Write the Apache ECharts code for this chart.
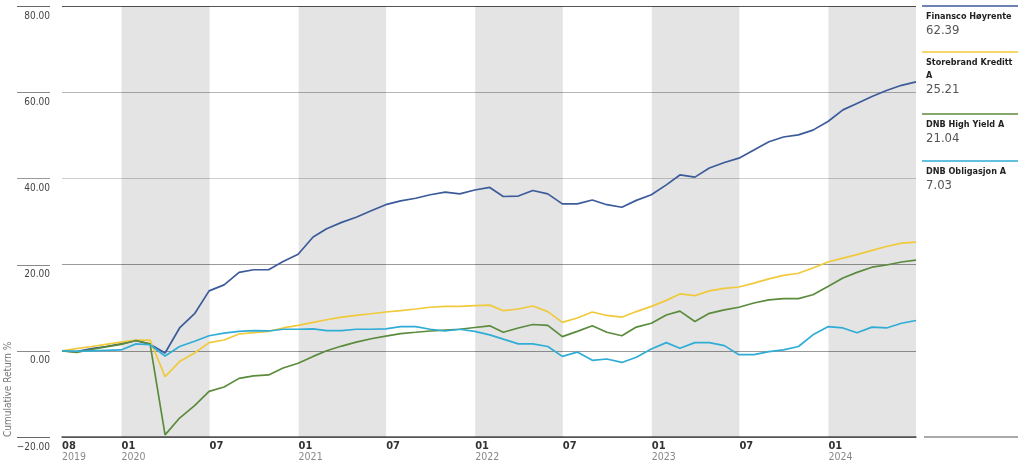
<!DOCTYPE html>
<html><head><meta charset="utf-8">
<script src="https://cdn.jsdelivr.net/npm/echarts@6/dist/echarts.min.js"></script>
<style>html,body{margin:0;padding:0;background:#fff}#c{width:1024px;height:471px}</style>
</head><body><div id="c"></div>
<script>
const dates = ['2019-08-31','2019-09-30','2019-10-31','2019-11-30','2019-12-31',
'2020-01-31','2020-02-29','2020-03-31','2020-04-30','2020-05-31','2020-06-30','2020-07-31','2020-08-31','2020-09-30','2020-10-31','2020-11-30','2020-12-31',
'2021-01-31','2021-02-28','2021-03-31','2021-04-30','2021-05-31','2021-06-30','2021-07-31','2021-08-31','2021-09-30','2021-10-31','2021-11-30','2021-12-31',
'2022-01-31','2022-02-28','2022-03-31','2022-04-30','2022-05-31','2022-06-30','2022-07-31','2022-08-31','2022-09-30','2022-10-31','2022-11-30','2022-12-31',
'2023-01-31','2023-02-28','2023-03-31','2023-04-30','2023-05-31','2023-06-30','2023-07-31','2023-08-31','2023-09-30','2023-10-31','2023-11-30','2023-12-31',
'2024-01-31','2024-02-29','2024-03-31','2024-04-30','2024-05-31','2024-06-30'];

const finansco = [0,-0.2,0.5,1.0,1.6,2.4,1.5,-0.5,5.3,8.6,13.9,15.3,18.2,18.8,18.8,20.7,22.4,
26.4,28.3,29.8,31.0,32.5,33.9,34.8,35.4,36.2,36.8,36.4,37.3,
37.9,35.8,35.9,37.2,36.4,34.1,34.1,35.0,33.9,33.3,34.9,36.2,
38.5,40.8,40.3,42.4,43.7,44.7,46.6,48.5,49.6,50.1,51.2,53.2,
55.9,57.4,59.0,60.4,61.6,62.39];

const storebrand = [0,0.5,1.0,1.5,2.0,2.5,2.5,-6.0,-2.5,-0.5,1.9,2.5,3.9,4.2,4.5,5.3,5.9,
6.6,7.2,7.8,8.2,8.6,9.0,9.3,9.7,10.1,10.3,10.3,10.5,
10.6,9.3,9.7,10.4,9.1,6.6,7.6,9.0,8.2,7.8,9.1,10.3,
11.7,13.2,12.8,13.9,14.5,14.8,15.7,16.7,17.5,18.0,19.2,20.6,
21.5,22.3,23.3,24.2,25.0,25.21];

const dnbHighYield = [0,-0.4,0.3,0.9,1.5,2.4,1.6,-19.5,-15.6,-12.7,-9.4,-8.4,-6.4,-5.8,-5.6,-4.0,-2.9,
-1.3,0,1.1,2.0,2.8,3.4,4.0,4.3,4.6,4.8,5.0,5.4,
5.8,4.3,5.3,6.1,5.9,3.3,4.5,5.8,4.3,3.5,5.5,6.4,
8.3,9.2,6.8,8.7,9.5,10.1,11.1,11.8,12.1,12.1,13.0,14.9,
16.9,18.2,19.4,19.9,20.6,21.04];

const dnbObligasjon = [0,-0.1,0,0.1,0.2,1.6,1.4,-1.2,1.0,2.2,3.5,4.1,4.5,4.7,4.6,5.0,5.0,
5.1,4.7,4.7,5.0,5.0,5.1,5.6,5.6,5.0,4.6,5.0,4.5,
3.7,2.7,1.6,1.6,1.0,-1.3,-0.3,-2.2,-1.9,-2.7,-1.5,0.4,
1.9,0.6,1.9,1.9,1.2,-0.9,-0.9,-0.2,0.2,1.0,3.7,5.6,
5.3,4.2,5.5,5.3,6.4,7.03];

const seriesNames = ['Finansco Høyrente','Storebrand Kreditt A','DNB High Yield A','DNB Obligasjon A'];
const legendLabels = ['Finansco Høyrente','Storebrand Kreditt\nA','DNB High Yield A','DNB Obligasjon A'];
const seriesColors = ['#3c5b9a','#f0c93c','#5b8b3d','#2fadd6'];

const yTicks = [-20,0,20,40,60,80];
const xTickDates = ['2019-08-31','2020-01-01','2020-07-01','2021-01-01','2021-07-01','2022-01-01','2022-07-01','2023-01-01','2023-07-01','2024-01-01'];
const xTickMonths = ['08','01','07','01','07','01','07','01','07','01'];
const xTickYears = ['2019','2020','','2021','','2022','','2023','','2024'];
const bandStarts = ['2020-01-01','2021-01-01','2022-01-01','2023-01-01','2024-01-01'];
const bandEnds = ['2020-07-01','2021-07-01','2022-07-01','2023-07-01','2024-06-30'];

const FONT = '"Liberation Sans Narrow","DejaVu Sans Condensed","Roboto Condensed","Liberation Sans",sans-serif';
function t(s){ const p = s.split('-').map(Number); return Date.UTC(p[0], p[1]-1, p[2]); }

const allValues = [finansco, storebrand, dnbHighYield, dnbObligasjon];
const xTickTimes = xTickDates.map(t);

const GRID = {left: 62, right: 108, top: 6, bottom: 34};
const chart = echarts.init(document.getElementById('c'), null, {renderer:'canvas'});

const lineSeries = allValues.map((vals, k) => ({
  name: seriesNames[k],
  type: 'line',
  data: dates.map((d, i) => [t(d), vals[i]]),
  showSymbol: false,
  symbol: 'none',
  lineStyle: {color: seriesColors[k], width: 1.7},
  itemStyle: {color: seriesColors[k]},
  z: 3
}));

const bandSeries = {
  type: 'line',
  data: [[t(dates[0]), 0]],
  showSymbol: false,
  symbol: 'none',
  lineStyle: {width: 0, opacity: 0},
  silent: true,
  z: 1,
  markArea: {
    silent: true,
    itemStyle: {color: 'rgba(0,0,0,0.105)'},
    data: bandStarts.map((s, i) => [{xAxis: t(s)}, {xAxis: t(bandEnds[i])}])
  }
};

const legendTops = [6, 52, 114, 161];
const graphics = [];
allValues.forEach((vals, k) => {
  const top = legendTops[k];
  const nLines = legendLabels[k].split('\n').length;
  graphics.push({type:'line', shape:{x1:922, y1:top, x2:1018, y2:top}, style:{stroke: seriesColors[k], lineWidth: 1.6}, silent:true});
  graphics.push({type:'text', x:926, y:top+4, style:{text: legendLabels[k], font:'bold 9px ' + FONT, fill:'#222', lineHeight:13, verticalAlign:'top', align:'left'}, silent:true});
  graphics.push({type:'text', x:926, y:top+4+13*nLines, style:{text: vals[vals.length-1].toFixed(2), font:'13px ' + FONT, fill:'#555', lineHeight:15, verticalAlign:'top', align:'left'}, silent:true});
});
graphics.push({type:'line', shape:{x1:924, y1:437, x2:1018, y2:437}, style:{stroke:'#555', lineWidth:1.2}, silent:true});
graphics.push({type:'text', x:3, y:437, rotation: Math.PI/2, style:{text:'Cumulative Return %', font:'10px ' + FONT, fill:'#777', align:'left', verticalAlign:'top'}, silent:true});

// short stubs left of the y labels (decoration at each y tick)
const plotH = 471 - GRID.top - GRID.bottom;
const yMin = yTicks[0], yMax = yTicks[yTicks.length-1];
const stubColors = ['#666', '#8a8a8a', '#8a8a8a', '#999', '#8a8a8a', '#666'];
yTicks.forEach((v, i) => {
  const y = Math.round(GRID.top + (yMax - v) / (yMax - yMin) * plotH) + 0.5;
  graphics.push({type:'rect', z: 50, shape:{x:17, y:y-0.5, width:33, height:1}, style:{fill: stubColors[i]}, silent:true});
});

const gridLineColors = ['#555', '#9a9a9a', '#9a9a9a', '#cfcfcf', '#b5b5b5', '#555'];

chart.setOption({
  animation: false,
  backgroundColor: '#fff',
  grid: Object.assign({containLabel: false}, GRID),
  xAxis: {
    type: 'value',
    min: t(dates[0]),
    max: t(dates[dates.length-1]),
    axisLine: {show: true, onZero: false, lineStyle: {color: '#555', width: 1.5}},
    axisTick: {show: false},
    splitLine: {show: false},
    axisLabel: {
      customValues: xTickTimes,
      align: 'left',
      margin: 4,
      formatter: function (value) {
        let idx = 0, best = Infinity;
        xTickTimes.forEach((tt, i) => { const d = Math.abs(tt - value); if (d < best) { best = d; idx = i; } });
        return xTickYears[idx] ? '{m|' + xTickMonths[idx] + '}\n{y|' + xTickYears[idx] + '}' : '{m|' + xTickMonths[idx] + '}';
      },
      rich: {
        m: {fontFamily: FONT, fontWeight: 'bold', fontSize: 11, color: '#333', lineHeight: 11},
        y: {fontFamily: FONT, fontSize: 10.5, color: '#888', lineHeight: 11}
      }
    }
  },
  yAxis: {
    type: 'value',
    min: yMin,
    max: yMax,
    interval: 20,
    offset: 12,
    axisLine: {show: false},
    axisTick: {show: false},
    axisLabel: {
      margin: 0,
      verticalAlign: 'top',
      padding: [4, 0, 0, 0],
      fontFamily: FONT,
      fontSize: 10,
      lineHeight: 12,
      color: '#444',
      formatter: v => (v < 0 ? '\u2212' + Math.abs(v).toFixed(2) : v.toFixed(2))
    },
    splitLine: {show: true, lineStyle: {color: gridLineColors, width: 1}}
  },
  series: [bandSeries].concat(lineSeries),
  graphic: graphics
});
</script>
</body></html>
